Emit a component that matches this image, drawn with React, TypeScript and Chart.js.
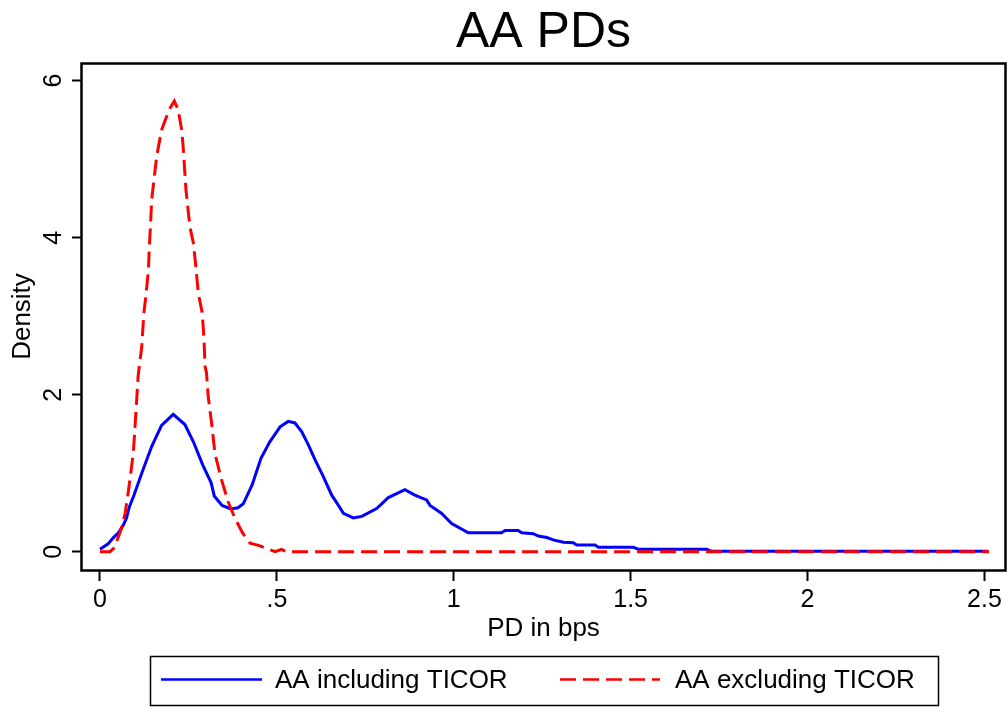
import React, { useEffect, useRef } from "react";
import { Chart, registerables } from "chart.js";

Chart.register(...registerables);

// Kernel density estimates of PD (in bps) for AA-rated firms
const inclX = [
  0.0, 0.023, 0.038, 0.052, 0.066, 0.075, 0.083, 0.096, 0.118, 0.146, 0.174, 0.207,
  0.24, 0.264, 0.29, 0.314, 0.323, 0.345, 0.37, 0.39, 0.405, 0.43, 0.455, 0.48,
  0.509, 0.532, 0.551, 0.57, 0.589, 0.608, 0.631, 0.655, 0.674, 0.688, 0.716, 0.74,
  0.782, 0.815, 0.862, 0.89, 0.923, 0.933, 0.965, 0.994, 1.041, 1.135, 1.145, 1.182,
  1.192, 1.225, 1.239, 1.263, 1.281, 1.31, 1.338, 1.347, 1.399, 1.409, 1.508, 1.522,
  1.715, 1.729, 2.51,
];
const inclY = [
  0.03, 0.1, 0.18, 0.24, 0.34, 0.43, 0.57, 0.72, 1.0, 1.34, 1.61, 1.75,
  1.62, 1.4, 1.11, 0.88, 0.71, 0.59, 0.545, 0.56, 0.61, 0.85, 1.19, 1.4,
  1.59, 1.66, 1.64, 1.53, 1.36, 1.17, 0.96, 0.72, 0.59, 0.49, 0.43, 0.45,
  0.55, 0.69, 0.79, 0.72, 0.66, 0.59, 0.49, 0.36, 0.24, 0.24, 0.27, 0.27,
  0.24, 0.23, 0.2, 0.18, 0.15, 0.12, 0.115, 0.085, 0.085, 0.056, 0.056, 0.03,
  0.03, 0.005, 0.005,
];

const exclX = [
  0.0, 0.028, 0.038, 0.047, 0.061, 0.071, 0.08, 0.094, 0.099, 0.108, 0.118, 0.124,
  0.129, 0.137, 0.139, 0.143, 0.146, 0.16, 0.174, 0.188, 0.198, 0.21, 0.221, 0.231,
  0.235, 0.243, 0.254, 0.264, 0.271, 0.278, 0.289, 0.294, 0.297, 0.301, 0.306, 0.316,
  0.325, 0.342, 0.362, 0.382, 0.403, 0.424, 0.448, 0.471, 0.495, 0.513, 0.528, 2.513,
];
const exclY = [
  0.0, 0.0, 0.04, 0.13, 0.3, 0.49, 0.76, 1.25, 1.59, 2.25, 2.61, 3.04,
  3.23, 3.59, 3.84, 4.18, 4.48, 5.03, 5.37, 5.54, 5.65, 5.74, 5.63, 5.37,
  5.16, 4.61, 4.14, 3.93, 3.63, 3.29, 3.04, 2.7, 2.36, 2.28, 1.97, 1.62,
  1.25, 0.94, 0.64, 0.42, 0.24, 0.11, 0.08, 0.04, 0.0, 0.03, 0.0, 0.0,
];

const seriesLabels = ["AA including TICOR", "AA excluding TICOR"];
const xTickValues = [0, 0.5, 1, 1.5, 2, 2.5];
const yTickValues = [0, 2, 4, 6];
const chartTitle = "AA PDs";
const xAxisTitle = "PD in bps";
const yAxisTitle = "Density";

const FAMILY = "'Liberation Sans', Arial, Helvetica, sans-serif";

const fmtTick = (v: number) => String(v).replace(/^0\./, ".");

const toPoints = (xs: number[], ys: number[]) => xs.map((x, i) => ({ x, y: ys[i] }));

// Plot frame, centred title and boxed legend underneath the axes
const decorations = {
  id: "decorations",
  afterDraw(chart: any) {
    const { ctx, chartArea } = chart;
    const { left, right, top, bottom } = chartArea;
    ctx.save();

    // frame around the plot region
    ctx.strokeStyle = "#000";
    ctx.lineWidth = 2.5;
    ctx.setLineDash([]);
    ctx.strokeRect(left + 0.5, top + 0.5, right - left - 1, bottom - top);

    // title
    ctx.fillStyle = "#000";
    ctx.font = `50px ${FAMILY}`;
    ctx.textAlign = "center";
    ctx.textBaseline = "alphabetic";
    ctx.fillText(chartTitle, (left + right) / 2, 47);

    // legend box
    const bx = 150, by = 656, bw = 788, bh = 49;
    ctx.lineWidth = 1.5;
    ctx.strokeRect(bx + 0.5, by + 0.5, bw, bh);

    const items = [
      { x0: 161, x1: 262, tx: 275 },
      { x0: 560, x1: 660, tx: 675 },
    ];
    const ly = 679.5;
    ctx.font = `26px ${FAMILY}`;
    ctx.textAlign = "left";
    chart.data.datasets.forEach((ds: any, i: number) => {
      const it = items[i];
      ctx.beginPath();
      ctx.strokeStyle = ds.borderColor;
      ctx.lineWidth = 2.5;
      ctx.setLineDash(ds.borderDash || []);
      ctx.moveTo(it.x0, ly);
      ctx.lineTo(it.x1, ly);
      ctx.stroke();
      ctx.setLineDash([]);
      ctx.fillStyle = "#000";
      ctx.fillText(ds.label, it.tx, 688);
    });
    ctx.restore();
  },
};

export default function App() {
  const canvasRef = useRef<HTMLCanvasElement | null>(null);

  useEffect(() => {
    const canvas = canvasRef.current;
    if (!canvas) return;
    const chart = new Chart(canvas, {
      type: "line",
      data: {
        datasets: [
          {
            label: seriesLabels[0],
            data: toPoints(inclX, inclY),
            borderColor: "#0000ff",
            borderWidth: 3,
            pointRadius: 0,
            tension: 0,
            fill: false,
            order: 1,
          },
          {
            label: seriesLabels[1],
            data: toPoints(exclX, exclY),
            borderColor: "#ff0000",
            borderDash: [16, 7],
            borderWidth: 3,
            pointRadius: 0,
            tension: 0,
            fill: false,
            order: 0,
          },
        ],
      },
      options: {
        animation: false,
        responsive: false,
        devicePixelRatio: 1,
        layout: { padding: { top: 63, right: 1, bottom: 0, left: 0 } },
        plugins: {
          legend: { display: false },
          title: { display: false },
          tooltip: { enabled: false },
        },
        scales: {
          x: {
            type: "linear",
            min: -0.0537,
            max: 2.561,
            afterBuildTicks: (scale: any) => {
              scale.ticks = xTickValues.map((value) => ({ value }));
            },
            afterFit: (scale: any) => {
              scale.height = 137;
            },
            border: { display: false },
            grid: {
              display: true,
              drawOnChartArea: false,
              drawTicks: true,
              tickLength: 11,
              tickWidth: 2,
              tickColor: "#000",
            },
            ticks: {
              callback: (v: any) => fmtTick(Number(v)),
              font: { family: FAMILY, size: 25 },
              color: "#000",
              padding: 4,
              maxRotation: 0,
              minRotation: 0,
              autoSkip: false,
            },
            title: {
              display: true,
              text: xAxisTitle,
              font: { family: FAMILY, size: 26 },
              color: "#000",
              padding: { top: 0, bottom: 63 },
            },
          },
          y: {
            type: "linear",
            min: -0.233,
            max: 6.225,
            afterBuildTicks: (scale: any) => {
              scale.ticks = yTickValues.map((value) => ({ value }));
            },
            afterFit: (scale: any) => {
              scale.width = 81;
            },
            border: { display: false },
            grid: {
              display: true,
              drawOnChartArea: false,
              drawTicks: true,
              tickLength: 9,
              tickWidth: 2,
              tickColor: "#000",
            },
            ticks: {
              callback: (v: any) => fmtTick(Number(v)),
              font: { family: FAMILY, size: 25 },
              color: "#000",
              padding: 11,
              minRotation: 90,
              maxRotation: 90,
              crossAlign: "center",
              autoSkip: false,
            },
            title: {
              display: true,
              text: yAxisTitle,
              font: { family: FAMILY, size: 26 },
              color: "#000",
              padding: { top: 7, bottom: 0 },
            },
          },
        },
      },
      plugins: [decorations],
    } as any);
    return () => chart.destroy();
  }, []);

  return (
    <div
      style={{
        position: "fixed",
        left: 0,
        top: 0,
        width: 1007,
        height: 707,
        background: "#fff",
      }}
    >
      <canvas ref={canvasRef} width={1007} height={707} style={{ display: "block" }} />
    </div>
  );
}
